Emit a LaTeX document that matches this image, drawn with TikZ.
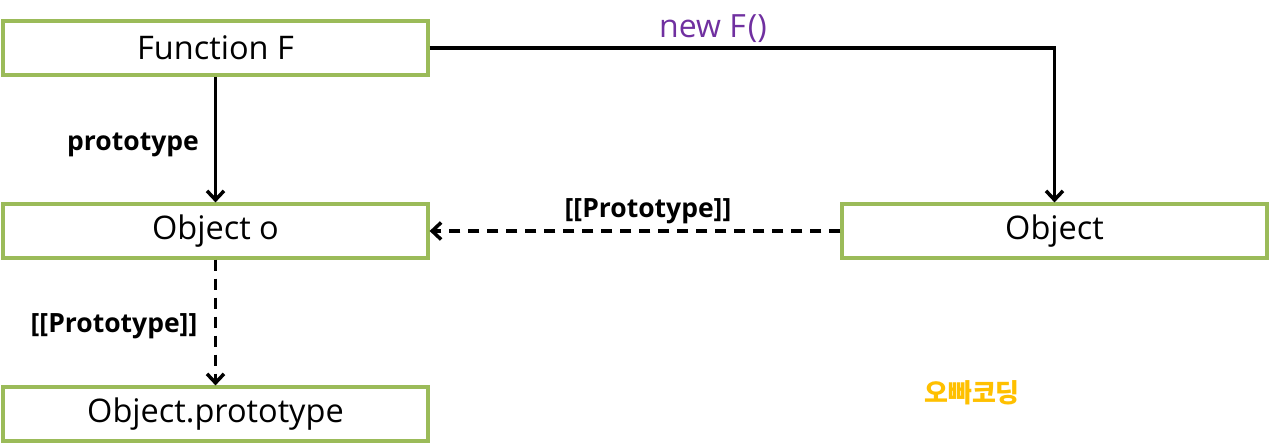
\documentclass[tikz,border=0pt]{standalone}
\usepackage{fontspec}
\setmainfont{Open Sans}
\newfontfamily\kofont{Noto Sans CJK KR}
\usetikzlibrary{arrows.meta}
\definecolor{boxgreen}{HTML}{9BBB59}
\definecolor{newpurple}{HTML}{7030A0}
\definecolor{brandorange}{HTML}{FFC000}
\tikzset{
  objbox/.style={draw=boxgreen, line width=3.2pt, fill=white, minimum width=425pt, minimum height=54pt, inner sep=0pt, font=\fontsize{32.5}{38}\selectfont},
  conn/.style={line width=3.5pt, -{Straight Barb[length=9pt,width=17pt,line width=3.5pt]}},
  dashconn/.style={conn, dash pattern=on 11pt off 8pt},
  lbl/.style={font=\bfseries\fontsize{26.5}{30}\selectfont, inner sep=0pt}
}
\begin{document}
\begin{tikzpicture}[x=1pt,y=-1pt]
\useasboundingbox (0,0) rectangle (1270,445);
\node[objbox] (F) at (215.5,48) {Function F};
\node[objbox] (o) at (215.5,231) {Object o};
\node[objbox] (op) at (215.5,414) {Object.prototype};
\node[objbox] (obj) at (1054.5,231) {Object};
\coordinate (corner) at (obj.north |- F.east);
\draw[conn] (F.east) -- (corner) -- (obj.north);
\draw[conn] (F.south) -- (o.north);
\draw[dashconn] (obj.west) -- (o.east);
\draw[dashconn] (o.south) -- (op.north);
\node[text=newpurple, font=\fontsize{32}{36}\selectfont, inner sep=0pt] (newF) at (713,29) {new F\kern2pt()};
\node[lbl] (lp) at (133,145) {prototype};
\node[lbl] (lpp1) at (648,211) {[[Prototype]]};
\node[lbl] (lpp2) at (114,326) {[[Prototype]]};
\node[text=brandorange, font=\kofont\bfseries\fontsize{26}{30}\selectfont, inner sep=0pt] (brand) at (972,393) {오빠코딩};
\end{tikzpicture}
\end{document}
